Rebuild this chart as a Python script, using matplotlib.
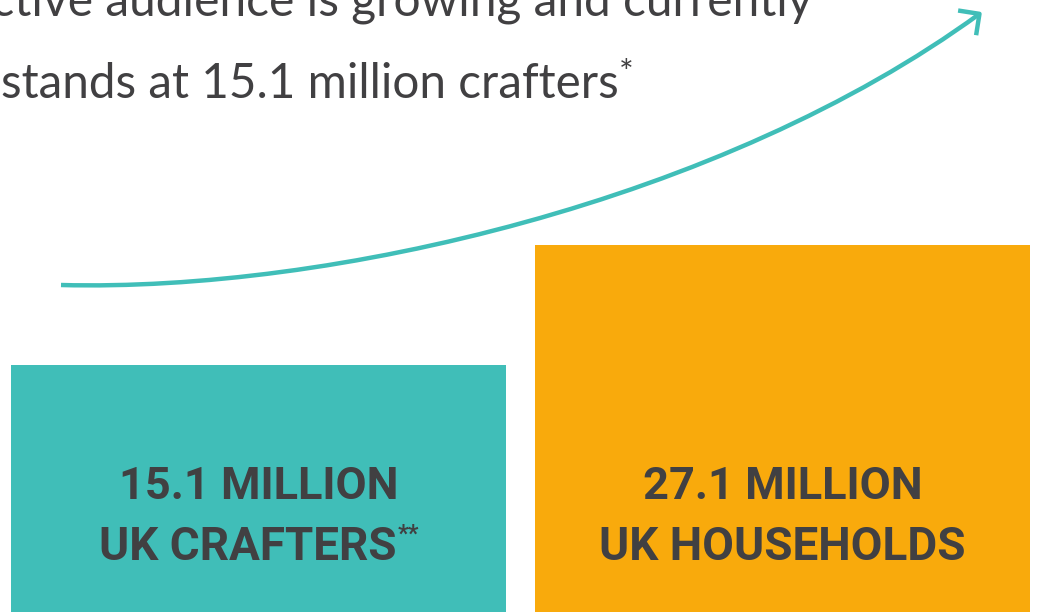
import matplotlib
matplotlib.use("Agg")
import matplotlib.pyplot as plt
from matplotlib.path import Path
from matplotlib.patches import FancyArrowPatch
from matplotlib.transforms import offset_copy

# ---- data ----
categories = ["UK CRAFTERS", "UK HOUSEHOLDS"]
values = [15.1, 27.1]
value_labels = ["15.1 MILLION", "27.1 MILLION"]
label_marks = ["**", ""]
headline_1 = "Our active audience is growing and currently"
headline_2 = "stands at 15.1 million crafters"
headline_mark = "*"

# ---- style ----
TEAL = "#40BEB8"
ORANGE = "#F9AA0C"
DARK = "#414042"
bar_colors = [TEAL, ORANGE]
BOLD_FONT = ["Roboto", "DejaVu Sans"]
HEAD_FONT = ["Lato", "DejaVu Sans"]

W, H, DPI = 1043, 612, 100
fig = plt.figure(figsize=(W / DPI, H / DPI), dpi=DPI)
fig.patch.set_facecolor("white")

# main axes for the bars
ax = fig.add_axes([0, 0, 1, 1])
ax.set_xlim(-0.4933, 1.4971)
ax.set_ylim(-9.65, 51.55)
ax.axis("off")

floor = -20
xs = list(range(len(categories)))
ax.bar(xs, [v - floor for v in values], bottom=floor, width=0.943,
       color=bar_colors, linewidth=0, zorder=2)

for i, (lab, cat, mark) in enumerate(zip(value_labels, categories, label_marks)):
    ax.text(i, 1.65, lab, ha="center", va="baseline", fontsize=32.5,
            fontweight="bold", family=BOLD_FONT, color=DARK, zorder=3)
    shift = -11 if mark else 0
    t = ax.text(i, -4.45, cat, ha="center", va="baseline", fontsize=33,
                fontweight="bold", family=BOLD_FONT, color=DARK, zorder=3,
                transform=offset_copy(ax.transData, fig=fig, x=shift, y=0, units="dots"))
    if mark:
        ax.annotate(mark, xy=(1, 1), xycoords=t, xytext=(1, 2), textcoords="offset points",
                    ha="left", va="top", fontsize=17, fontweight="bold",
                    family=BOLD_FONT, color=DARK, zorder=3)

# overlay axes in pixel coordinates for the headline and the arrow
ov = fig.add_axes([0, 0, 1, 1], facecolor="none")
ov.set_xlim(0, W)
ov.set_ylim(H, 0)
ov.axis("off")

ov.text(812, 15, headline_1, ha="right", va="baseline", fontsize=34.5,
        family=HEAD_FONT, color=DARK)
t2 = ov.text(1, 98, headline_2, ha="left", va="baseline", fontsize=34.3,
             family=HEAD_FONT, color=DARK)
ov.annotate(headline_mark, xy=(1, 1), xycoords=t2, xytext=(0, 3), textcoords="offset points",
            ha="left", va="top", fontsize=25, family=HEAD_FONT, color=DARK)

verts = [(61, 285), (330, 292), (723, 201), (982, 12)]
codes = [Path.MOVETO, Path.CURVE4, Path.CURVE4, Path.CURVE4]
arrow = FancyArrowPatch(path=Path(verts, codes),
                        arrowstyle="->,head_length=0.55,head_width=0.55",
                        mutation_scale=20, color=TEAL, lw=3.2,
                        transform=ov.transData, capstyle="butt")
ov.add_patch(arrow)

fig.savefig("out.png", dpi=DPI, facecolor="white")
